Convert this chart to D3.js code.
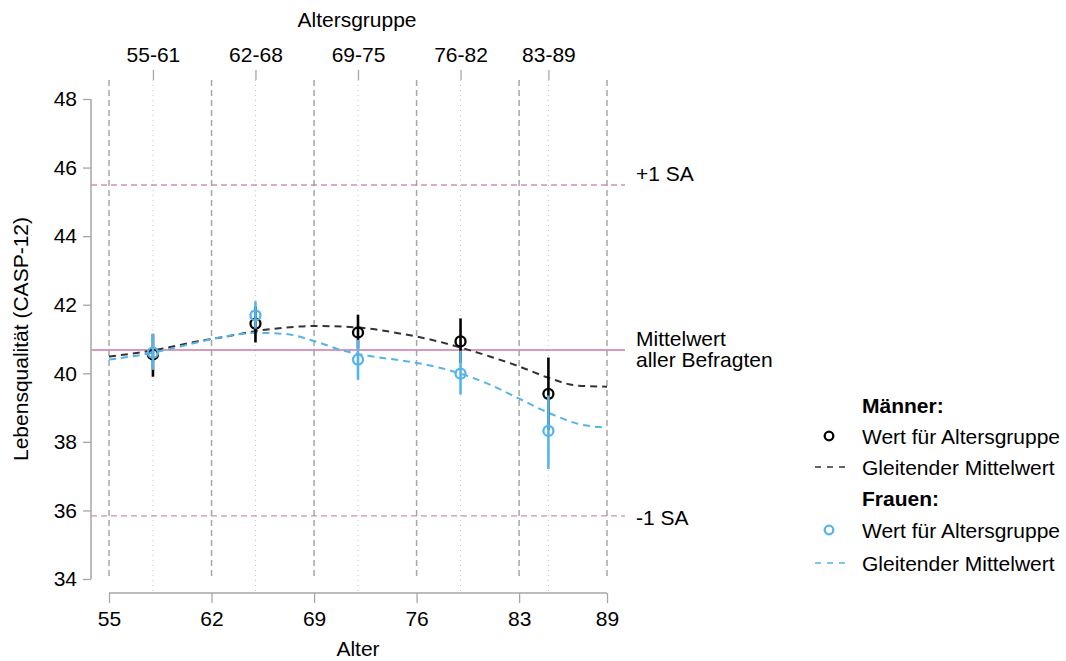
<!DOCTYPE html>
<html><head><meta charset="utf-8">
<script src="https://cdn.jsdelivr.net/npm/d3@7"></script>
<style>body{margin:0;background:#fff}svg{display:block;font-family:"Liberation Sans",Arial,sans-serif}</style>
</head><body><svg id="c" width="1066" height="661"></svg>
<script>
const ageTicks = [55, 62, 69, 76, 83, 89];
const yTicks = [34, 36, 38, 40, 42, 44, 46, 48];
const groupLabels = ["55-61", "62-68", "69-75", "76-82", "83-89"];
const groupAges = [58, 65, 72, 79, 85];
const menMean = [40.55, 41.45, 41.19, 40.93, 39.40];
const menLow  = [39.90, 40.90, 40.72, 40.30, 38.35];
const menHigh = [41.15, 41.95, 41.71, 41.60, 40.46];
const womenMean = [40.60, 41.69, 40.40, 39.99, 38.32];
const womenLow  = [40.10, 41.30, 39.81, 39.38, 37.21];
const womenHigh = [41.15, 42.10, 40.98, 40.66, 39.35];
const smoothAges = [55, 57, 59, 61, 63, 65, 67, 69, 71, 73, 75, 77, 79, 81, 83, 85, 87, 89];
const menSmooth = [40.49, 40.60, 40.75, 40.93, 41.07, 41.23, 41.33, 41.38, 41.36, 41.29, 41.15, 40.98, 40.75, 40.49, 40.20, 39.87, 39.64, 39.61];
const womenSmooth = [40.40, 40.52, 40.69, 40.90, 41.08, 41.18, 41.15, 40.94, 40.66, 40.49, 40.37, 40.22, 39.99, 39.67, 39.26, 38.85, 38.53, 38.41];
const refValues = [45.49, 40.68, 35.84];
const refLabels = [["+1 SA"], ["Mittelwert", "aller Befragten"], ["-1 SA"]];
const legendItems = [
  {type: "title", text: "Männer:"},
  {type: "point", text: "Wert für Altersgruppe", color: "#000"},
  {type: "line", text: "Gleitender Mittelwert", color: "#333"},
  {type: "title", text: "Frauen:"},
  {type: "point", text: "Wert für Altersgruppe", color: "#56B4E9"},
  {type: "line", text: "Gleitender Mittelwert", color: "#56B4E9"}
];

const svg = d3.select("#c");
const FS = 21;
const x = d3.scaleLinear().domain([55, 89]).range([109, 607]);
const y = d3.scaleLinear().domain([34, 48]).range([579, 99]);
const grey = "#a6a6a6";

// vertical dashed lines at age ticks
svg.append("g").selectAll("line").data(ageTicks).join("line")
  .attr("x1", d => x(d)).attr("x2", d => x(d)).attr("y1", 80).attr("y2", 580)
  .attr("stroke", grey).attr("stroke-width", 1.5).attr("stroke-dasharray", "6,4");
// dotted group lines
svg.append("g").selectAll("line").data(groupAges).join("line")
  .attr("x1", d => x(d)).attr("x2", d => x(d)).attr("y1", 80).attr("y2", 594)
  .attr("stroke", "#c4c4c4").attr("stroke-width", 1).attr("stroke-dasharray", "1,4");

// reference lines
svg.append("g").selectAll("line").data(refValues).join("line")
  .attr("x1", 91).attr("x2", 625).attr("y1", d => y(d)).attr("y2", d => y(d))
  .attr("stroke", "#CC79A7").attr("stroke-width", (d,i) => i === 1 ? 1.6 : 1.4)
  .attr("stroke-opacity", (d,i) => i === 1 ? 1 : 0.85)
  .attr("stroke-dasharray", (d,i) => i === 1 ? null : "6,4");
const labelOffsets = [[-12], [-11, 10], [2]];
refLabels.forEach((lines, i) => {
  const t = svg.append("text").attr("font-size", FS).attr("fill", "#000");
  lines.forEach((s, j) => {
    t.append("tspan").attr("x", 636).attr("y", y(refValues[i]) + labelOffsets[i][j])
      .attr("dominant-baseline", "central").text(s);
  });
});

// axes
const yAxis = d3.axisLeft(y).tickValues(yTicks).tickSize(8).tickPadding(6);
const gy = svg.append("g").attr("transform", "translate(91,0)").call(yAxis);
const xAxis = d3.axisBottom(x).tickValues(ageTicks).tickSize(10).tickPadding(8);
const gx = svg.append("g").attr("transform", "translate(0,593)").call(xAxis);
const gt = svg.append("g").attr("transform", "translate(0,80)")
  .call(d3.axisTop(x).tickValues(groupAges).tickFormat((d,i) => groupLabels[i]).tickSize(10).tickPadding(8));
[gy, gx, gt].forEach(g => {
  g.selectAll("text").attr("font-size", FS).attr("fill", "#000").attr("font-family", "Liberation Sans, Arial, sans-serif");
  g.selectAll("line").attr("stroke", grey).attr("stroke-width", 1.3);
  g.select(".domain").attr("stroke", grey).attr("stroke-width", 1.5);
});
gt.select(".domain").remove();
gy.select(".domain").attr("d", `M0,${y(48)}V${y(34)}`);
gx.select(".domain").attr("d", `M${x(55)},0H${x(89)}`);

svg.append("text").attr("x", 357).attr("y", 19).attr("text-anchor", "middle").attr("dominant-baseline", "central")
  .attr("font-size", FS).text("Altersgruppe");
svg.append("text").attr("x", 358).attr("y", 656).attr("text-anchor", "middle")
  .attr("font-size", FS).text("Alter");
svg.append("text").attr("transform", "translate(20,339) rotate(-90)").attr("text-anchor", "middle")
  .attr("dominant-baseline", "central").attr("font-size", FS).text("Lebensqualität (CASP-12)");

// smooth lines
const line = d3.line().x((d,i) => x(smoothAges[i])).y(d => y(d)).curve(d3.curveMonotoneX);
svg.append("path").datum(menSmooth).attr("d", line).attr("fill", "none")
  .attr("stroke", "#333").attr("stroke-width", 2).attr("stroke-dasharray", "7,5");
svg.append("path").datum(womenSmooth).attr("d", line).attr("fill", "none")
  .attr("stroke", "#56B4E9").attr("stroke-width", 2).attr("stroke-dasharray", "7,5");

// points and error bars
function drawSeries(mean, lo, hi, color) {
  const g = svg.append("g");
  g.selectAll("line").data(mean).join("line")
    .attr("x1", (d,i) => x(groupAges[i])).attr("x2", (d,i) => x(groupAges[i]))
    .attr("y1", (d,i) => y(hi[i])).attr("y2", (d,i) => y(lo[i]))
    .attr("stroke", color).attr("stroke-width", 2.6);
  g.selectAll("circle").data(mean).join("circle")
    .attr("cx", (d,i) => x(groupAges[i])).attr("cy", d => y(d)).attr("r", 5)
    .attr("fill", "none").attr("stroke", color).attr("stroke-width", 2.3);
}
drawSeries(menMean, menLow, menHigh, "#000");
drawSeries(womenMean, womenLow, womenHigh, "#56B4E9");

// legend
const legY = [405, 436, 467, 498, 530, 563];
const lg = svg.append("g");
legendItems.forEach((it, i) => {
  const yy = legY[i];
  lg.append("text").attr("x", 862).attr("y", yy).attr("dominant-baseline", "central")
    .attr("font-size", FS).attr("font-weight", it.type === "title" ? "bold" : "normal").text(it.text);
  if (it.type === "point") {
    lg.append("circle").attr("cx", 829).attr("cy", yy).attr("r", 4.3).attr("fill", "none")
      .attr("stroke", it.color).attr("stroke-width", 2.3);
  } else if (it.type === "line") {
    lg.append("line").attr("x1", 815).attr("x2", 845).attr("y1", yy).attr("y2", yy)
      .attr("stroke", it.color).attr("stroke-width", 1.6).attr("stroke-dasharray", "6,6");
  }
});
</script></body></html>
